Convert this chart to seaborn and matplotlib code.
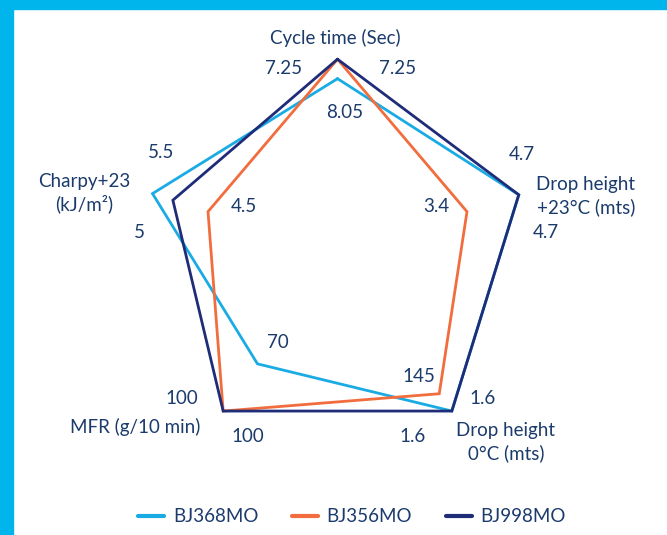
import numpy as np
import pandas as pd
import matplotlib
matplotlib.use("Agg")
import matplotlib.pyplot as plt
import seaborn as sns

# ---- data ----
axes_labels = ["Cycle time (Sec)", "Drop height\n+23°C (mts)", "Drop height\n0°C (mts)",
               "MFR (g/10 min)", "Charpy+23\n(kJ/m²)"]
series_names = ["BJ368MO", "BJ356MO", "BJ998MO"]
# relative radial scores (clockwise from top)
bj368_scores = [0.90, 0.98, 1.00, 0.70, 1.00]
bj356_scores = [1.00, 0.70, 0.89, 1.00, 0.70]
bj998_scores = [1.00, 0.98, 1.00, 1.00, 0.89]
# value annotations as printed on the chart
value_labels = ["7.25", "7.25", "8.05", "4.7", "4.7", "3.4", "1.6", "1.6", "145",
                "100", "100", "70", "5.5", "5", "4.5"]

colors = {"BJ368MO": "#1aabe4", "BJ356MO": "#f26d3d", "BJ998MO": "#1f2c78"}
text_color = "#1b3b6c"
frame_color = "#00b4ec"

sns.set_theme(style="white")
plt.rcParams["font.family"] = ["Lato", "DejaVu Sans"]

W, H = 667, 535
fig = plt.figure(figsize=(W / 100, H / 100), dpi=100)
fig.patch.set_facecolor("white")

# cyan frame (top and left bands)
fig.patches.append(plt.Rectangle((0, 1 - 9 / H), 1, 9 / H, transform=fig.transFigure,
                                 color=frame_color, zorder=0))
fig.patches.append(plt.Rectangle((0, 0), 13 / W, 1, transform=fig.transFigure,
                                 color=frame_color, zorder=0))

cx, cy, R = 337.5, 253.7, 194.5
rmax = 1.1
Rb = R * rmax
ax = fig.add_axes([(cx - Rb) / W, 1 - (cy + Rb) / H, 2 * Rb / W, 2 * Rb / H],
                  projection="polar")
ax.set_theta_offset(np.pi / 2)
ax.set_theta_direction(-1)
ax.set_facecolor("none")

n = len(axes_labels)
theta = np.linspace(0, 2 * np.pi, n, endpoint=False)
rows = []
for name, sc in zip(series_names, [bj368_scores, bj356_scores, bj998_scores]):
    th = list(theta) + [2 * np.pi]
    rr = list(sc) + [sc[0]]
    for i, (t, r) in enumerate(zip(th, rr)):
        rows.append({"theta": t, "r": r, "series": name, "order": i})
df = pd.DataFrame(rows)

sns.lineplot(data=df, x="theta", y="r", hue="series", palette=colors, sort=False,
             estimator=None, units="series", linewidth=2.0, ax=ax, legend=True)
ax.set_ylim(0, rmax)
ax.grid(False)
ax.set_xticks([])
ax.set_yticks([])
ax.spines["polar"].set_visible(False)
ax.set_xlabel("")
ax.set_ylabel("")
for ln in ax.lines:
    ln.set_solid_joinstyle("miter")

fs = 13.5
handles, labels = ax.get_legend_handles_labels()
ax.get_legend().remove()
leg = fig.legend(handles, labels, loc="center", bbox_to_anchor=(352 / W, 1 - 517 / H),
                 ncol=3, frameon=False, fontsize=fs, handlelength=1.4,
                 columnspacing=1.8, handletextpad=0.45)
for h in leg.get_lines():
    h.set_linewidth(3)
for t in leg.get_texts():
    t.set_color(text_color)

def put(x, y, s, ha="center"):
    fig.text(x / W, 1 - y / H, s, ha=ha, va="center", color=text_color, fontsize=fs,
             linespacing=1.3)

# axis titles
put(335, 38, axes_labels[0])
put(586, 196, axes_labels[1])
put(506, 442, axes_labels[2])
put(135, 427, axes_labels[3])
put(84, 193, axes_labels[4])

# value labels
pos = [(284, 68), (398, 68), (345, 112), (522, 154), (546, 233), (436, 207),
       (483, 399), (413, 437), (419, 377), (182, 398), (248, 436), (278, 342),
       (161, 153), (139, 232), (244, 206)]
for (x, y), s in zip(pos, value_labels):
    put(x, y, s)

fig.savefig("out.png", dpi=100, facecolor="white")
